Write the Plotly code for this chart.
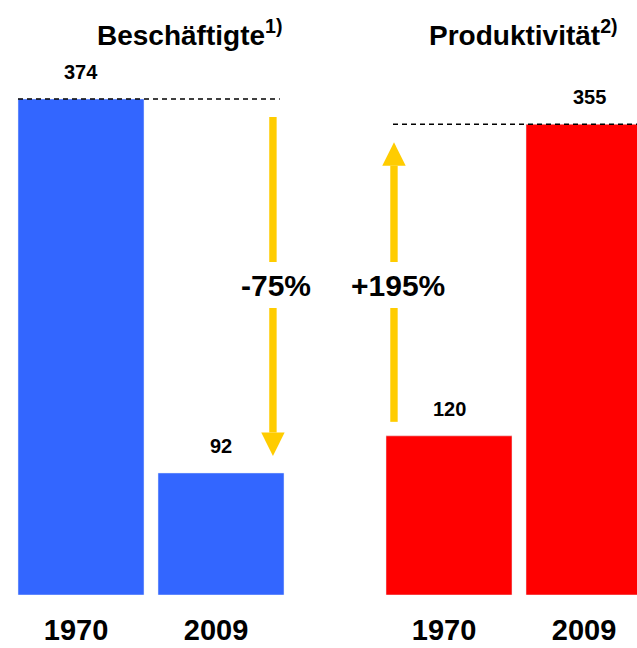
import plotly.graph_objects as go

# ---- data ----
years = ["1970", "2009"]
employees = [374, 92]          # Beschäftigte
productivity = [120, 355]      # Produktivität
change_employees = "-75%"
change_productivity = "+195%"
title_left = "Beschäftigte<sup>1)</sup>"
title_right = "Produktivität<sup>2)</sup>"

BLUE = "#3366FF"
RED = "#FF0000"
GOLD = "#FFCC00"
FONT = "Liberation Sans, Arial, sans-serif"

W, H = 637, 648
B = 53                       # bottom margin (axis baseline)
S = 1.3263                   # px per unit
YMAX = (H - B) / S

fig = go.Figure()
fig.add_trace(go.Bar(x=years, y=employees, marker_color=BLUE, xaxis="x", yaxis="y",
                     showlegend=False, hoverinfo="skip"))
fig.add_trace(go.Bar(x=years, y=productivity, marker_color=RED, xaxis="x2", yaxis="y2",
                     showlegend=False, hoverinfo="skip"))

axis_common = dict(showgrid=False, zeroline=False, showline=False, ticks="",
                   tickfont=dict(family=FONT, size=29, color="black", weight="bold"),
                   ticklabelstandoff=15, ticklabelshift=-5, fixedrange=True)
left_dom = [11 / W, 291 / W]
right_dom = [379 / W, 1.0]
right_max = -0.5 + (W - 379) / 140

fig.update_layout(
    width=W, height=H,
    margin=dict(l=0, r=0, t=0, b=B),
    paper_bgcolor="white", plot_bgcolor="white",
    bargap=0.1,
    xaxis=dict(domain=left_dom, range=[-0.5, 1.5], type="category", **axis_common),
    xaxis2=dict(domain=right_dom, range=[-0.5, right_max], type="category", anchor="y2", **axis_common),
    yaxis=dict(range=[0, YMAX], visible=False, fixedrange=True),
    yaxis2=dict(range=[0, YMAX], visible=False, anchor="x2", overlaying="y", fixedrange=True),
)

def u(px):
    return px / S

shapes = []
# dashed reference lines
shapes.append(dict(type="line", xref="x", yref="y", x0=-0.45, x1=1.42,
                   y0=employees[0], y1=employees[0],
                   line=dict(color="black", width=1.5, dash="5px,4px")))
shapes.append(dict(type="line", xref="x2", yref="y2", x0=-0.40, x1=right_max,
                   y0=productivity[1], y1=productivity[1],
                   line=dict(color="black", width=1.5, dash="5px,4px")))

def arrow(xref, yref, xc, y_start, y_end, mid, down):
    sw = 3.7 / 140       # shaft half width (axis units)
    hw = 11.7 / 140      # head half width
    hl = u(23.5)         # head length
    gap = u(23)
    out = []
    if down:
        base = y_end + hl
        segs = [(mid + gap, y_start), (base, mid - gap)]
    else:
        base = y_end - hl
        segs = [(y_start, mid - gap), (mid + gap, base)]
    tri = f"M {xc-hw},{base} L {xc+hw},{base} L {xc},{y_end} Z"
    for a, b in segs:
        out.append(dict(type="rect", xref=xref, yref=yref, x0=xc - sw, x1=xc + sw,
                        y0=min(a, b), y1=max(a, b), fillcolor=GOLD, line=dict(width=0)))
    out.append(dict(type="path", xref=xref, yref=yref, path=tri, fillcolor=GOLD,
                    line=dict(width=0)))
    return out

mid_y = u(595 - 285)
shapes += arrow("x", "y", 1.371, employees[0] - u(18), employees[1] + u(17), mid_y, True)
shapes += arrow("x2", "y2", -0.393, productivity[0] + u(14), productivity[1] - u(18), mid_y, False)
fig.update_layout(shapes=shapes)

ann = []
# value labels (category index positions)
for xr, yr, vals in (("x", "y", employees), ("x2", "y2", productivity)):
    for i, v in enumerate(vals):
        ann.append(dict(xref=xr, yref=yr, x=i, y=v, text=str(v), showarrow=False,
                        xanchor="center", yanchor="middle", yshift=27,
                        font=dict(family=FONT, size=20, color="black", weight="bold")))
# percentage changes
ann.append(dict(xref="x", yref="y", x=1.393, y=mid_y, text=change_employees, showarrow=False,
                xanchor="center", yanchor="middle",
                font=dict(family=FONT, size=30, color="black", weight="bold")))
ann.append(dict(xref="x2", yref="y2", x=-0.364, y=mid_y, text=change_productivity, showarrow=False,
                xanchor="center", yanchor="middle",
                font=dict(family=FONT, size=30, color="black", weight="bold")))
# titles
ty = (H - 33 - B) / (H - B)
ann.append(dict(xref="paper", yref="paper", x=189 / W, y=ty, text=title_left, showarrow=False,
                xanchor="center", yanchor="middle",
                font=dict(family=FONT, size=28, color="black", weight="bold")))
ann.append(dict(xref="paper", yref="paper", x=523.5 / W, y=ty, text=title_right, showarrow=False,
                xanchor="center", yanchor="middle",
                font=dict(family=FONT, size=28, color="black", weight="bold")))
fig.update_layout(annotations=ann)

fig.write_html("out.html",
               config={"displayModeBar": False, "staticPlot": True},
               post_script="document.body.style.margin='0px';document.body.style.overflow='hidden';")
